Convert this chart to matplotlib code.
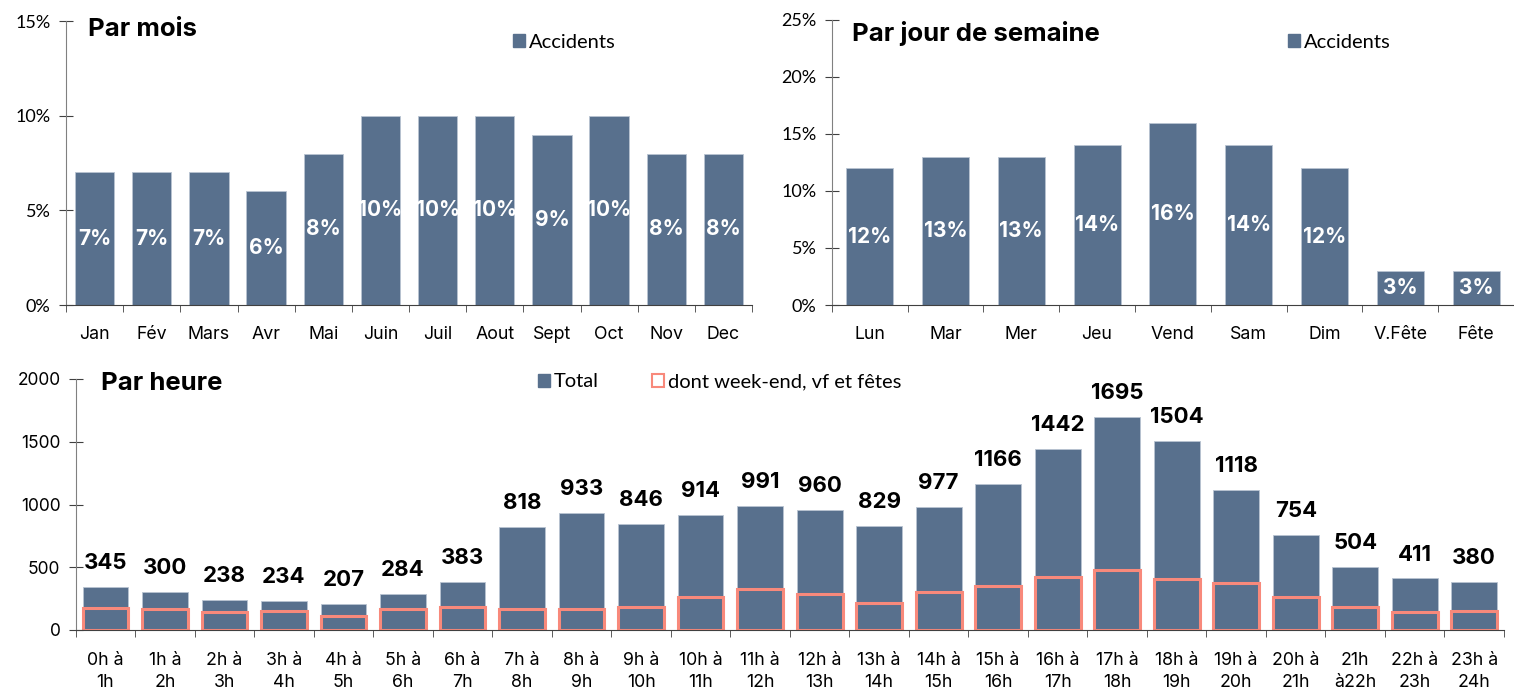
import matplotlib.pyplot as plt
from matplotlib.patches import Patch
import numpy as np

# Data
months = ["Jan", "Fév", "Mars", "Avr", "Mai", "Juin", "Juil", "Aout", "Sept", "Oct", "Nov", "Dec"]
month_pct = [7, 7, 7, 6, 8, 10, 10, 10, 9, 10, 8, 8]

days = ["Lun", "Mar", "Mer", "Jeu", "Vend", "Sam", "Dim", "V.Fête", "Fête"]
day_pct = [12, 13, 13, 14, 16, 14, 12, 3, 3]

hours = ["0h à\n1h", "1h à\n2h", "2h à\n3h", "3h à\n4h", "4h à\n5h", "5h à\n6h",
         "6h à\n7h", "7h à\n8h", "8h à\n9h", "9h à\n10h", "10h à\n11h", "11h à\n12h",
         "12h à\n13h", "13h à\n14h", "14h à\n15h", "15h à\n16h", "16h à\n17h", "17h à\n18h",
         "18h à\n19h", "19h à\n20h", "20h à\n21h", "21h\nà22h", "22h à\n23h", "23h à\n24h"]
hour_total = [345, 300, 238, 234, 207, 284, 383, 818, 933, 846, 914, 991,
              960, 829, 977, 1166, 1442, 1695, 1504, 1118, 754, 504, 411, 380]
hour_weekend = [172, 164, 146, 153, 114, 169, 183, 165, 164, 183, 262, 328,
                286, 217, 304, 352, 423, 482, 410, 373, 259, 180, 143, 148]

BLUE = "#58708d"
SALMON = "#f8897b"
MAIN_FONT = ['Inter', 'DejaVu Sans']
NARROW_FONT = ['Lato', 'DejaVu Sans']

plt.rcParams['font.family'] = MAIN_FONT

W, H = 1514, 690
fig = plt.figure(figsize=(W / 100, H / 100), dpi=100)


def style_axis(ax, n, pct=True):
    for s in ["top", "right"]:
        ax.spines[s].set_visible(False)
    ax.spines["left"].set_color("#808080")
    ax.spines["bottom"].set_color("#404040")
    ax.set_xticks(np.arange(n))
    ax.set_xticks(np.arange(-0.5, n, 1), minor=True)
    ax.tick_params(axis="x", which="major", length=0, pad=15, labelsize=12.8)
    ax.tick_params(axis="x", which="minor", length=5, direction="out", color="#404040")
    ax.tick_params(axis="y", length=10, direction="inout", color="#404040",
                   labelsize=13 if pct else 12.5, pad=6)
    if pct:
        for lab in ax.get_yticklabels():
            lab.set_family(NARROW_FONT)


def add_legend(ax, handles, x, y, **kw):
    ax.legend(handles=handles, loc="center left", bbox_to_anchor=(x / W, 1 - y / H),
              bbox_transform=fig.transFigure, frameon=False,
              prop={"family": NARROW_FONT, "size": 14.5}, handlelength=0.6,
              handleheight=0.6, handletextpad=0.2, **kw)


# ---- Par mois
ax1 = fig.add_axes([66 / W, 1 - 305 / H, 686 / W, 284 / H])
x = np.arange(len(months))
ax1.bar(x, month_pct, width=0.69, color=BLUE, edgecolor="#b9c4d1", linewidth=0.6)
for i, v in enumerate(month_pct):
    ax1.text(i, v / 2, f"{v}%", ha="center", va="center", color="white",
             fontsize=15, fontweight="bold")
ax1.set_xlim(-0.5, len(months) - 0.5)
ax1.set_ylim(0, 15)
ax1.set_yticks([0, 5, 10, 15])
ax1.set_yticklabels(["0%", "5%", "10%", "15%"])
ax1.set_xticklabels(months)
style_axis(ax1, len(months))
fig.text(88 / W, 1 - 29 / H, "Par mois", fontsize=18.5, fontweight="bold", va="center")
add_legend(ax1, [Patch(color=BLUE, label="Accidents")], 495, 42)

# ---- Par jour de semaine
ax2 = fig.add_axes([831.7 / W, 1 - 305 / H, (W - 831.7) / W, 285 / H])
x = np.arange(len(days))
ax2.bar(x, day_pct, width=0.62, color=BLUE, edgecolor="#b9c4d1", linewidth=0.6)
for i, v in enumerate(day_pct):
    ax2.text(i, v / 2, f"{v}%", ha="center", va="center", color="white",
             fontsize=15, fontweight="bold")
ax2.set_xlim(-0.5, -0.5 + (W - 831.7) / 76.55)
ax2.set_ylim(0, 25)
ax2.set_yticks([0, 5, 10, 15, 20, 25])
ax2.set_yticklabels(["0%", "5%", "10%", "15%", "20%", "25%"])
ax2.set_xticklabels(days)
style_axis(ax2, len(days))
fig.text(852 / W, 1 - 33 / H, "Par jour de semaine", fontsize=18.5, fontweight="bold", va="center")
add_legend(ax2, [Patch(color=BLUE, label="Accidents")], 1270, 42)

# ---- Par heure
ax3 = fig.add_axes([75.7 / W, 1 - 630 / H, (1504 - 75.7) / W, 251 / H])
x = np.arange(len(hours))
ax3.bar(x, hour_total, width=0.77, color=BLUE, edgecolor="#b9c4d1", linewidth=0.6)
ax3.bar(x, hour_weekend, width=0.77, fill=False, edgecolor=SALMON, linewidth=2.2)
for i, v in enumerate(hour_total):
    ax3.annotate(str(v), (i, v), xytext=(0, 10), textcoords="offset points",
                 ha="center", va="bottom", fontsize=16, fontweight="bold")
ax3.set_xlim(-0.5, len(hours) - 0.5)
ax3.set_ylim(0, 2000)
ax3.set_yticks([0, 500, 1000, 1500, 2000])
ax3.set_xticklabels(hours, linespacing=1.4)
style_axis(ax3, len(hours), pct=False)
ax3.tick_params(axis="x", which="major", pad=16)
fig.text(101 / W, 1 - 384 / H, "Par heure", fontsize=18.5, fontweight="bold", va="center")
add_legend(ax3, [Patch(color=BLUE, label="Total"),
                 Patch(facecolor="white", edgecolor=SALMON, linewidth=1.5,
                       label="dont week-end, vf et fêtes")],
           520, 382, ncol=2, columnspacing=2.6)

fig.savefig("out.png", dpi=100)
